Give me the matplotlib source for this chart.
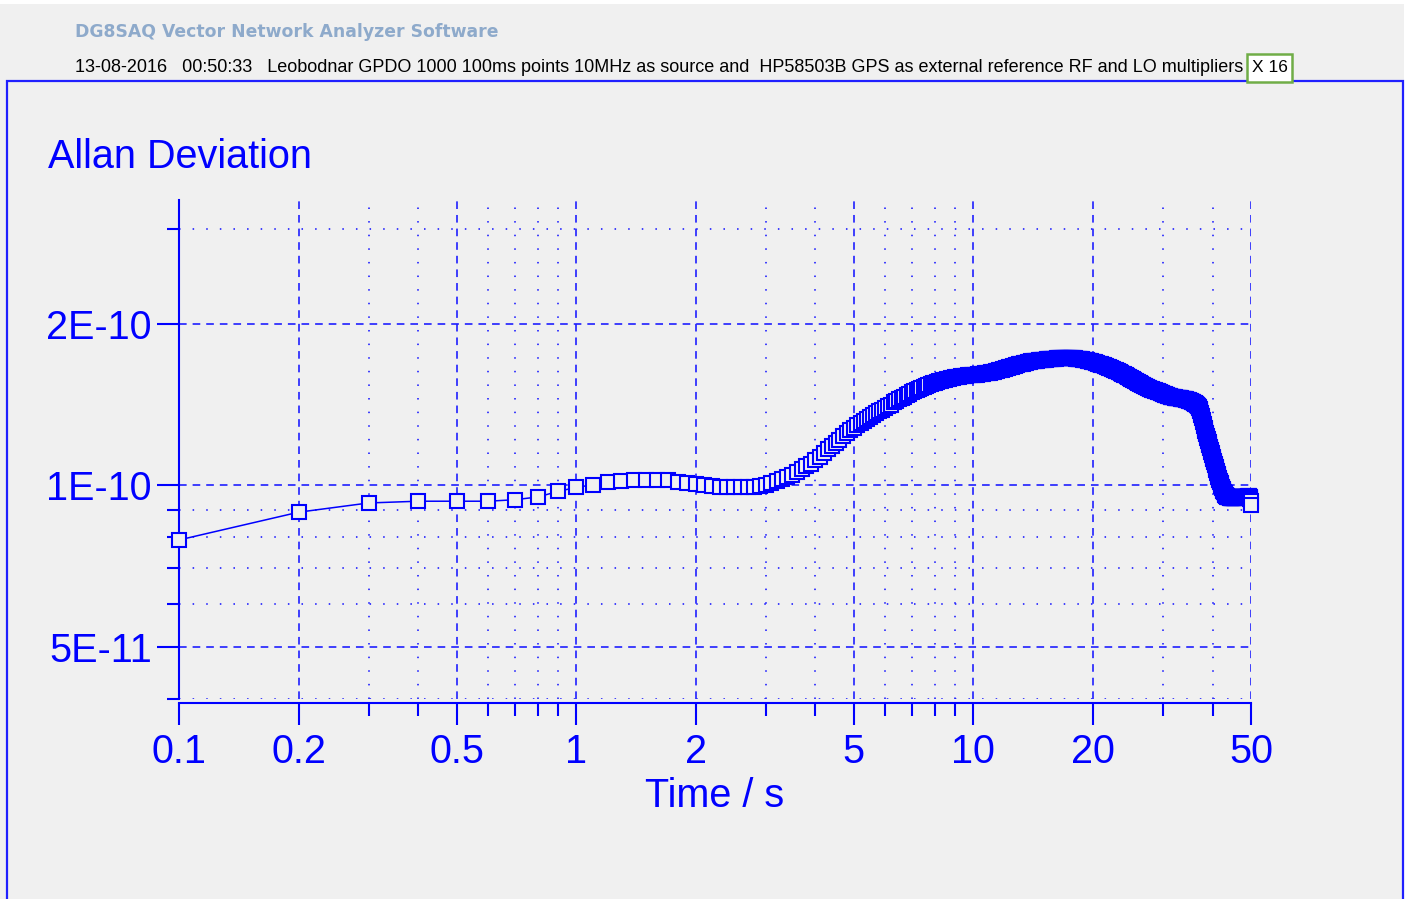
import matplotlib
matplotlib.use("Agg")
import matplotlib.pyplot as plt
from matplotlib.patches import Rectangle

# header / labels
header_title = "DG8SAQ Vector Network Analyzer Software"
header_info = ("13-08-2016   00:50:33   Leobodnar GPDO 1000 100ms points 10MHz as source and  "
               "HP58503B GPS as external reference RF and LO multipliers")
multiplier_label = "X 16"
chart_title = "Allan Deviation"
x_label = "Time / s"

# averaging time, 100 ms points from 0.1 s to 50 s
tau = [round(0.1 * k, 1) for k in range(1, 501)]

# Allan deviation in units of 1E-12, ten values per row
adev_0_5 = [
    79.0, 89.0, 92.6, 93.3, 93.3, 93.3, 93.9, 95.0, 97.3, 99.0,
    100.1, 101.2, 101.9, 102.3, 102.3, 102.3, 102.3, 101.3, 100.9, 100.6,
    100.1, 99.7, 99.3, 99.2, 99.2, 99.2, 99.2, 99.3, 99.7, 100.1,
    100.9, 101.6, 102.5, 103.3, 104.4, 105.7, 107.0, 108.3, 109.6, 111.2,
    112.8, 114.6, 116.5, 118.3, 120.0, 121.6, 123.2, 124.8, 126.4, 128.0,
]
adev_5_10 = [
    129.5, 130.6, 131.8, 132.9, 134.0, 135.0, 136.0, 137.2, 138.3, 139.3,
    140.3, 141.3, 142.6, 143.5, 144.5, 145.4, 146.2, 147.0, 148.0, 148.8,
    149.5, 150.2, 150.9, 151.6, 152.4, 153.1, 153.7, 154.3, 154.8, 155.3,
    155.7, 156.1, 156.5, 157.0, 157.3, 157.6, 157.9, 158.2, 158.5, 158.8,
    159.0, 159.2, 159.4, 159.6, 159.8, 160.0, 160.2, 160.3, 160.4, 160.5,
]
adev_10_20 = [
    160.6, 160.7, 160.8, 161.0, 161.1, 161.3, 161.5, 161.7, 161.9, 162.0,
    162.2, 162.4, 162.7, 163.0, 163.3, 163.6, 163.9, 164.2, 164.5, 164.8,
    165.1, 165.4, 165.7, 166.0, 166.3, 166.6, 166.9, 167.2, 167.5, 167.8,
    168.0, 168.3, 168.5, 168.8, 169.0, 169.2, 169.4, 169.6, 169.8, 170.0,
    170.2, 170.3, 170.5, 170.6, 170.7, 170.8, 170.9, 171.0, 171.1, 171.2,
    171.3, 171.4, 171.5, 171.6, 171.7, 171.8, 171.9, 172.0, 172.0, 172.1,
    172.1, 172.2, 172.2, 172.3, 172.3, 172.3, 172.4, 172.4, 172.4, 172.4,
    172.4, 172.4, 172.4, 172.4, 172.4, 172.3, 172.3, 172.3, 172.2, 172.2,
    172.1, 172.0, 172.0, 171.9, 171.8, 171.7, 171.6, 171.5, 171.4, 171.3,
    171.1, 171.0, 170.8, 170.7, 170.5, 170.4, 170.2, 170.0, 169.9, 169.7,
]
adev_20_30 = [
    169.5, 169.3, 169.1, 168.9, 168.7, 168.5, 168.3, 168.1, 167.9, 167.7,
    167.5, 167.3, 167.1, 166.9, 166.7, 166.5, 166.2, 166.0, 165.8, 165.5,
    165.3, 165.1, 164.9, 164.6, 164.4, 164.2, 163.9, 163.7, 163.5, 163.2,
    163.0, 162.7, 162.5, 162.2, 162.0, 161.7, 161.4, 161.2, 160.9, 160.7,
    160.4, 160.1, 159.9, 159.6, 159.3, 159.0, 158.8, 158.5, 158.2, 157.9,
    157.7, 157.4, 157.1, 156.9, 156.6, 156.3, 156.1, 155.8, 155.6, 155.3,
    155.1, 154.8, 154.6, 154.4, 154.1, 153.9, 153.7, 153.4, 153.2, 153.0,
    152.8, 152.6, 152.3, 152.1, 151.9, 151.7, 151.5, 151.3, 151.1, 151.0,
    150.8, 150.7, 150.5, 150.4, 150.2, 150.1, 150.0, 149.9, 149.8, 149.6,
    149.5, 149.3, 149.2, 149.0, 148.9, 148.7, 148.5, 148.4, 148.2, 148.0,
]
adev_30_40 = [
    147.9, 147.7, 147.6, 147.5, 147.3, 147.2, 147.0, 146.9, 146.7, 146.6,
    146.5, 146.4, 146.3, 146.2, 146.1, 146.0, 145.9, 145.8, 145.8, 145.7,
    145.7, 145.6, 145.6, 145.5, 145.5, 145.4, 145.4, 145.3, 145.3, 145.2,
    145.2, 145.1, 145.1, 145.0, 145.0, 144.9, 144.9, 144.8, 144.7, 144.6,
    144.5, 144.4, 144.4, 144.3, 144.2, 144.1, 144.0, 143.9, 143.8, 143.6,
    143.5, 143.4, 143.3, 143.2, 143.0, 142.9, 142.8, 142.6, 142.5, 142.3,
    142.1, 141.9, 141.7, 141.5, 141.2, 140.9, 140.6, 140.2, 139.8, 139.3,
    138.7, 138.0, 137.2, 136.3, 135.3, 134.3, 133.2, 132.0, 131.0, 130.0,
    129.0, 128.0, 127.1, 126.2, 125.3, 124.4, 123.5, 122.6, 121.8, 121.0,
    120.2, 119.4, 118.6, 117.8, 117.0, 116.2, 115.4, 114.6, 113.8, 113.0,
]
adev_40_50 = [
    112.3, 111.6, 110.9, 110.2, 109.5, 108.8, 108.1, 107.4, 106.7, 106.0,
    105.4, 104.8, 104.2, 103.6, 103.0, 102.4, 101.8, 101.3, 100.8, 100.3,
    99.8, 99.3, 98.8, 98.4, 98.0, 97.6, 97.2, 96.9, 96.6, 96.3,
    96.0, 95.8, 95.6, 95.4, 95.3, 95.2, 95.1, 95.0, 95.0, 94.9,
    94.9, 94.9, 94.8, 94.8, 94.8, 94.8, 94.8, 94.8, 94.8, 94.8,
    94.8, 94.8, 94.8, 94.8, 94.8, 94.8, 94.8, 94.8, 94.9, 94.9,
    94.9, 94.9, 94.9, 94.9, 94.9, 95.0, 95.0, 95.0, 95.0, 95.0,
    95.0, 95.0, 95.0, 95.0, 95.1, 95.1, 95.1, 95.1, 95.1, 95.1,
    95.1, 95.1, 95.1, 95.2, 95.2, 95.2, 95.2, 95.2, 95.2, 95.2,
    95.2, 95.3, 95.3, 95.3, 95.2, 95.0, 94.6, 94.0, 93.2, 91.9,
]
adev = [v * 1e-12 for v in adev_0_5 + adev_5_10 + adev_10_20 + adev_20_30 + adev_30_40 + adev_40_50]

x_major = [0.1, 0.2, 0.5, 1, 2, 5, 10, 20, 50]
x_major_labels = ["0.1", "0.2", "0.5", "1", "2", "5", "10", "20", "50"]
x_minor = [0.3, 0.4, 0.6, 0.7, 0.8, 0.9, 3, 4, 6, 7, 8, 9, 30, 40]
y_major = [5e-11, 1e-10, 2e-10]
y_major_labels = ["5E-11", "1E-10", "2E-10"]
y_minor = [4e-11, 6e-11, 7e-11, 8e-11, 9e-11, 3e-10]

BG = "#f0f0f0"
BLUE = "#0000ff"
GRID = "#2020ff"

plt.rcParams["font.family"] = "Liberation Sans"
plt.rcParams["lines.scale_dashes"] = False

W, H = 1413, 899
fig = plt.figure(figsize=(W / 100, H / 100), dpi=100, facecolor=BG)


def fx(x):
    return x / W


def fy(y):
    return 1 - y / H


ax = fig.add_axes([fx(179), fy(698.5), (1251 - 179) / W, (698.5 - 200) / H])
ax.set_facecolor(BG)
ax.set_xscale("log")
ax.set_yscale("log")
ax.set_xlim(0.1, 50)
ax.set_ylim(4e-11, 3.40e-10)

for s in ["top", "right"]:
    ax.spines[s].set_visible(False)
for s in ["left", "bottom"]:
    ax.spines[s].set_color(BLUE)
    ax.spines[s].set_linewidth(1.5)
ax.spines["bottom"].set_position(("outward", 3.0))

ax.set_xticks(x_major, labels=x_major_labels)
ax.set_xticks(x_minor, minor=True, labels=[])
ax.set_yticks(y_major, labels=y_major_labels)
ax.set_yticks(y_minor, minor=True, labels=[])

ax.tick_params(which="both", direction="out", color=BLUE, width=1.5,
               labelcolor=BLUE, labelsize=28.5)
ax.tick_params(which="major", length=16)
ax.tick_params(which="minor", length=9)
ax.tick_params(axis="x", which="major", pad=5.5)
ax.tick_params(axis="y", which="major", pad=3.6)

ax.set_axisbelow(True)
ax.grid(which="major", color=GRID, lw=1.2, linestyle=(0, (5.5, 4.3)))
ax.grid(which="minor", color=GRID, lw=1.2, linestyle=(0, (1.1, 8.7)))

ax.plot(tau, adev, color=BLUE, lw=1.1, marker="s", ms=10.2, mfc=BG,
        mec=BLUE, mew=1.5, clip_on=False, zorder=3)

ax.set_xlabel(x_label, fontsize=28.5, color=BLUE)
ax.xaxis.set_label_coords(0.5, (698.5 - 807) / 498.5)
ax.xaxis.label.set_va("baseline")

fig.text(fx(48), fy(168), chart_title, color=BLUE, fontsize=28.5, va="baseline")

# window frame and header
fig.add_artist(Rectangle((fx(1404), 0), 1, 1, transform=fig.transFigure,
                         fc="white", ec="none"))
fig.add_artist(Rectangle((0, fy(4)), 1, 4 / H, transform=fig.transFigure,
                         fc="white", ec="none"))
fig.add_artist(Rectangle((fx(7), -0.01), (1403 - 7) / W, fy(81) + 0.01,
                         transform=fig.transFigure, fill=False, ec="#2020ff", lw=1.6))

t_title = fig.text(fx(75), fy(32), header_title, color="#8eaacb", fontsize=13,
                   fontweight="bold", va="center", family="DejaVu Sans")
t_info = fig.text(fx(75), fy(67), header_info, color="black", fontsize=12,
                  va="center", family=["Liberation Sans Narrow", "Liberation Sans"])

fig.add_artist(Rectangle((fx(1247), fy(82)), 45 / W, 28 / H, transform=fig.transFigure,
                         fc="white", ec="#70ad47", lw=1.8, zorder=5))
fig.text(fx(1269.5), fy(68), multiplier_label, color="black", fontsize=12.5,
         ha="center", va="center", zorder=6)

# fit header texts to their width in the screenshot
fig.canvas.draw()
r = fig.canvas.get_renderer()
for t, target in [(t_title, 420), (t_info, 1168)]:
    w = t.get_window_extent(r).width
    t.set_fontsize(t.get_fontsize() * target / w)

fig.savefig("out.png", dpi=100, facecolor=BG)
